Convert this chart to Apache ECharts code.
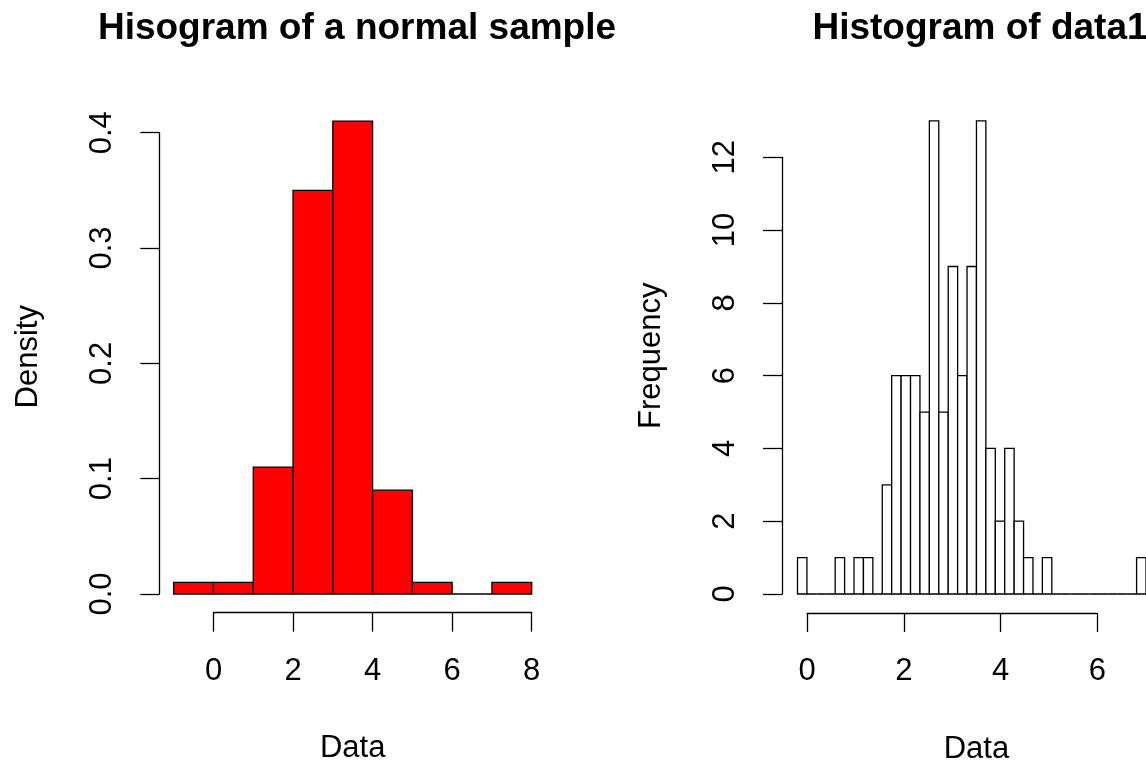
<!DOCTYPE html>
<html><head><meta charset="utf-8">
<script src="https://cdn.jsdelivr.net/npm/echarts@6/dist/echarts.min.js"></script>
<style>html,body{margin:0;padding:0;background:#fff}#c{width:1146px;height:763px}</style>
</head><body><div id="c"></div>
<script>
// ---- data ----
const leftBreaks = [-1, 0, 1, 2, 3, 4, 5, 6, 7, 8];
const leftDensity = [0.01, 0.01, 0.11, 0.35, 0.41, 0.09, 0.01, 0, 0.01];
const rightBreaks = [-0.2, 0, 0.2, 0.4, 0.6, 0.8, 1, 1.2, 1.4, 1.6, 1.8, 2, 2.2, 2.4, 2.6, 2.8, 3, 3.2, 3.4, 3.6, 3.8, 4, 4.2, 4.4, 4.6, 4.8, 5, 5.2, 5.4, 5.6, 5.8, 6, 6.2, 6.4, 6.6, 6.8, 7, 7.2];
const rightCounts = [1, 0, 0, 0, 1, 0, 1, 1, 0, 3, 6, 6, 6, 5, 13, 5, 9, 6, 9, 13, 4, 2, 4, 2, 1, 0, 1, 0, 0, 0, 0, 0, 0, 0, 0, 0, 1];
const leftXTicks = [0, 2, 4, 6, 8];
const leftYTicks = [0, 0.1, 0.2, 0.3, 0.4];
const rightXTicks = [0, 2, 4, 6];
const rightYTicks = [0, 2, 4, 6, 8, 10, 12];
const leftTitle = 'Hisogram of a normal sample';
const rightTitle = 'Histogram of data1';
const xName = 'Data';
const leftYName = 'Density';
const rightYName = 'Frequency';

// ---- chart ----
const FONT = '"Liberation Sans", Arial, Helvetica, sans-serif';
const FS = 31;
const LW = 1.3;
const chart = echarts.init(document.getElementById('c'), null, {renderer: 'canvas'});

function histItem(fill) {
  return function (params, api) {
    const x0 = api.value(0), x1 = api.value(1), h = api.value(2);
    const p0 = api.coord([x0, 0]);
    const p1 = api.coord([x1, h]);
    return {
      type: 'rect',
      shape: {x: p0[0], y: p1[1], width: p1[0] - p0[0], height: p0[1] - p1[1]},
      style: {fill: fill, stroke: '#000', lineWidth: LW}
    };
  };
}

const axisLine = {show: true, onZero: false, lineStyle: {color: '#000', width: LW}};
const axisTick = {show: true, length: 19, lineStyle: {color: '#000', width: LW}};
const lbl = {color: '#000', fontSize: FS, fontFamily: FONT, lineHeight: FS};

function step(a) { return a[1] - a[0]; }

const titleStyle = {fontSize: 37, fontWeight: 'bold', fontFamily: FONT, color: '#000', lineHeight: 37};

const option = {
  backgroundColor: '#fff',
  animation: false,
  title: [
    {text: leftTitle, left: 352, top: 5, textAlign: 'center', textStyle: titleStyle},
    {text: rightTitle, left: 975, top: 5, textAlign: 'center', textStyle: titleStyle}
  ],
  grid: [
    {left: 173.7, width: 358, top: 132.7, height: 461.3},
    {left: 213.5, width: 318.2, top: 132.7, height: 480},
    {left: 797.5, width: 357.9, top: 157.3, height: 436.7},
    {left: 807.2, width: 290.2, top: 157.3, height: 455.7}
  ],
  xAxis: [
    {gridIndex: 0, type: 'value', min: leftBreaks[0], max: leftBreaks[leftBreaks.length - 1], show: false},
    {gridIndex: 1, type: 'value', min: leftXTicks[0], max: leftXTicks[leftXTicks.length - 1], interval: step(leftXTicks),
     axisLine: axisLine, axisTick: axisTick, splitLine: {show: false},
     axisLabel: Object.assign({margin: 43}, lbl)},
    {gridIndex: 2, type: 'value', min: rightBreaks[0], max: rightBreaks[rightBreaks.length - 1], show: false},
    {gridIndex: 3, type: 'value', min: rightXTicks[0], max: rightXTicks[rightXTicks.length - 1], interval: step(rightXTicks),
     axisLine: axisLine, axisTick: axisTick, splitLine: {show: false},
     axisLabel: Object.assign({margin: 43}, lbl)}
  ],
  yAxis: [
    {gridIndex: 0, type: 'value', min: leftYTicks[0], max: leftYTicks[leftYTicks.length - 1], interval: step(leftYTicks),
     offset: 14.4, axisLine: axisLine, axisTick: axisTick, splitLine: {show: false},
     axisLabel: Object.assign({margin: 41, rotate: 90, formatter: v => v.toFixed(1)}, lbl)},
    {gridIndex: 1, type: 'value', min: 0, max: 1, show: false},
    {gridIndex: 2, type: 'value', min: rightYTicks[0], max: rightYTicks[rightYTicks.length - 1], interval: step(rightYTicks),
     offset: 15.5, axisLine: axisLine, axisTick: axisTick, splitLine: {show: false},
     axisLabel: Object.assign({margin: 41, rotate: 90}, lbl)},
    {gridIndex: 3, type: 'value', min: 0, max: 1, show: false}
  ],
  series: [
    {type: 'custom', xAxisIndex: 0, yAxisIndex: 0, clip: false,
     renderItem: histItem('#FF0000'), encode: {x: [0, 1], y: 2},
     data: leftDensity.map((d, i) => [leftBreaks[i], leftBreaks[i + 1], d])},
    {type: 'custom', xAxisIndex: 2, yAxisIndex: 2, clip: false,
     renderItem: histItem('#FFFFFF'), encode: {x: [0, 1], y: 2},
     data: rightCounts.map((d, i) => [rightBreaks[i], rightBreaks[i + 1], d])}
  ],
  graphic: [
    {type: 'text', x: 352.7, y: 748.5, style: {text: xName, fontSize: FS, fontFamily: FONT, fill: '#000', align: 'center', verticalAlign: 'middle'}},
    {type: 'text', x: 976.4, y: 749, style: {text: xName, fontSize: FS, fontFamily: FONT, fill: '#000', align: 'center', verticalAlign: 'middle'}},
    {type: 'text', x: 28.3, y: 356.7, rotation: Math.PI / 2, style: {text: leftYName, fontSize: FS, fontFamily: FONT, fill: '#000', align: 'center', verticalAlign: 'middle'}},
    {type: 'text', x: 651.7, y: 355.8, rotation: Math.PI / 2, style: {text: rightYName, fontSize: FS, fontFamily: FONT, fill: '#000', align: 'center', verticalAlign: 'middle'}}
  ]
};
chart.setOption(option);
</script>
</body></html>
